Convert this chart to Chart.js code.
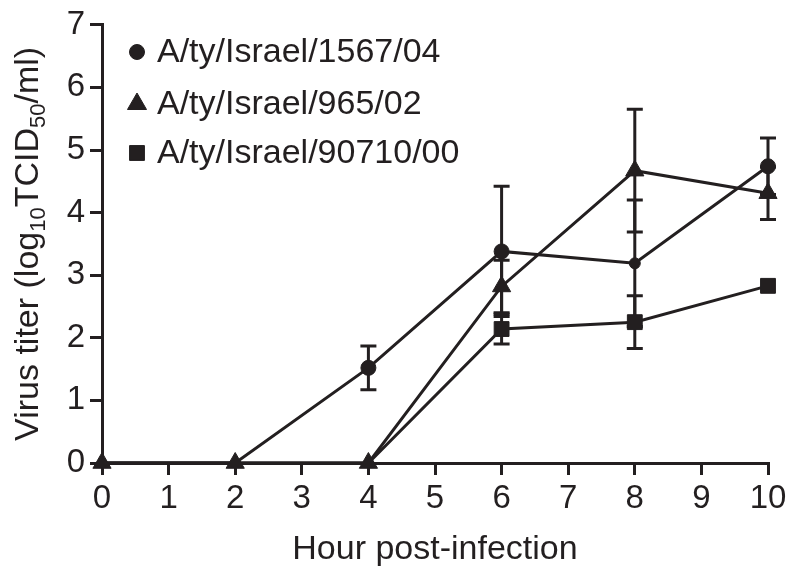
<!DOCTYPE html>
<html><head><meta charset="utf-8">
<script src="https://cdn.jsdelivr.net/npm/chart.js@4.4.1/dist/chart.umd.min.js"></script>
<style>html,body{margin:0;padding:0;background:#fff}canvas{display:block}</style>
</head><body>
<canvas id="c" width="800" height="572" style="width:800px;height:572px"></canvas>
<script>
// ---- data ----
const hours = [0, 2, 4, 6, 8, 10];
const seriesNames = ['A/ty/Israel/1567/04', 'A/ty/Israel/965/02', 'A/ty/Israel/90710/00'];
const titer1567 = [0, 0, 1.52, 3.38, 3.19, 4.74];
const err1567   = [0, 0, 0.35, 1.04, 1.01, 0.45];
const titer965  = [0, 0, 0, 2.82, 4.67, 4.31];
const err965    = [0, 0, 0, 0.42, 0.98, 0.42];
const titer90710 = [0, 0, 0, 2.14, 2.25, 2.83];
const err90710   = [0, 0, 0, 0.24, 0.42, 0];
const xTickValues = [0, 1, 2, 3, 4, 5, 6, 7, 8, 9, 10];
const yTickValues = [0, 1, 2, 3, 4, 5, 6, 7];
const xTitle = 'Hour post-infection';
const yTitleParts = [['Virus titer (log', false], ['10', true], ['TCID', false], ['50', true], ['/ml)', false]];

// ---- style ----
const INK = '#231f20';
const FAMILY = "'Liberation Sans', Arial, sans-serif";

const pts = (ys) => hours.map((h, i) => ({x: h, y: ys[i]}));

const errorBars = {
  id: 'errorBars',
  beforeDatasetsDraw(chart) {
    const ctx = chart.ctx;
    const xs = chart.scales.x, ys = chart.scales.y;
    ctx.save();
    ctx.strokeStyle = INK;
    ctx.lineWidth = 3;
    chart.data.datasets.forEach(ds => {
      ds.data.forEach((p, i) => {
        const e = ds.errors[i];
        if (!e) return;
        const px = xs.getPixelForValue(p.x);
        const top = ys.getPixelForValue(p.y + e);
        const bot = ys.getPixelForValue(p.y - e);
        ctx.beginPath();
        ctx.moveTo(px, top); ctx.lineTo(px, bot);
        ctx.moveTo(px - 8, top); ctx.lineTo(px + 8, top);
        ctx.moveTo(px - 8, bot); ctx.lineTo(px + 8, bot);
        ctx.stroke();
      });
    });
    ctx.restore();
  }
};

const extras = {
  id: 'extras',
  afterDraw(chart) {
    const ctx = chart.ctx;
    ctx.save();
    ctx.fillStyle = INK;
    // legend
    const legendRows = [
      {name: seriesNames[0], style: 'circle', r: 7.5, y: 52},
      {name: seriesNames[1], style: 'triangle', r: 11, y: 104},
      {name: seriesNames[2], style: 'rect', r: 10.5, y: 153}
    ];
    legendRows.forEach(row => {
      Chart.helpers.drawPoint(ctx, {pointStyle: row.style, radius: row.r, borderWidth: 1}, 137, row.y);
      ctx.fillStyle = INK; ctx.strokeStyle = INK;
      ctx.font = '34px ' + FAMILY;
      ctx.textAlign = 'left';
      ctx.textBaseline = 'middle';
      ctx.fillText(row.name, 157, row.y + 1);
    });
    // y title with subscripts
    const big = '34px ' + FAMILY, small = '22px ' + FAMILY;
    let total = 0;
    const widths = yTitleParts.map(([t, sub]) => { ctx.font = sub ? small : big; const w = ctx.measureText(t).width; total += w; return w; });
    const ca = chart.chartArea;
    ctx.translate(38, (ca.top + ca.bottom) / 2);
    ctx.rotate(-Math.PI / 2);
    ctx.textAlign = 'left';
    ctx.textBaseline = 'alphabetic';
    let cx = -total / 2;
    yTitleParts.forEach(([t, sub], i) => {
      ctx.font = sub ? small : big;
      ctx.fillText(t, cx, sub ? 7 : 0);
      cx += widths[i];
    });
    ctx.restore();
  }
};

const common = {
  borderColor: INK, backgroundColor: INK, pointBackgroundColor: INK, pointBorderColor: INK,
  borderWidth: 3, pointBorderWidth: 1, tension: 0, fill: false, clip: false
};

new Chart(document.getElementById('c'), {
  type: 'line',
  data: {
    datasets: [
      Object.assign({}, common, {label: seriesNames[1], data: pts(titer965), errors: err965, pointStyle: 'triangle', pointRadius: 10.5, order: 0}),
      Object.assign({}, common, {label: seriesNames[0], data: pts(titer1567), errors: err1567, pointStyle: 'circle', pointRadius: [0, 0, 7.5, 7.5, 5.5, 7.5], order: 1}),
      Object.assign({}, common, {label: seriesNames[2], data: pts(titer90710), errors: err90710, pointStyle: 'rect', pointRadius: [0, 0, 0, 10.5, 10.5, 10.5], order: 2})
    ]
  },
  options: {
    responsive: false,
    animation: false,
    devicePixelRatio: 1,
    layout: {padding: {left: 0, right: 32, top: 19, bottom: 0}},
    plugins: {legend: {display: false}, tooltip: {enabled: false}},
    scales: {
      x: {
        type: 'linear', min: 0, max: 10,
        afterBuildTicks: s => { s.ticks = xTickValues.map(v => ({value: v})); },
        afterFit: s => { s.height = 109; },
        ticks: {color: INK, font: {family: FAMILY, size: 33}, padding: 4, maxRotation: 0, autoSkip: false},
        grid: {drawOnChartArea: false, drawTicks: true, tickLength: 12, color: INK, lineWidth: 3},
        border: {display: true, color: INK, width: 3},
        title: {display: true, text: xTitle, color: INK, font: {family: FAMILY, size: 34}, padding: {top: 0, bottom: 2}}
      },
      y: {
        type: 'linear', min: 0, max: 7,
        afterBuildTicks: s => { s.ticks = yTickValues.map(v => ({value: v})); },
        afterFit: s => { s.width = 102; },
        ticks: {color: INK, font: {family: FAMILY, size: 33}, padding: 5},
        grid: {drawOnChartArea: false, drawTicks: true, tickLength: 12, color: INK, lineWidth: 3},
        border: {display: true, color: INK, width: 3}
      }
    }
  },
  plugins: [errorBars, extras]
});
</script>
</body></html>
